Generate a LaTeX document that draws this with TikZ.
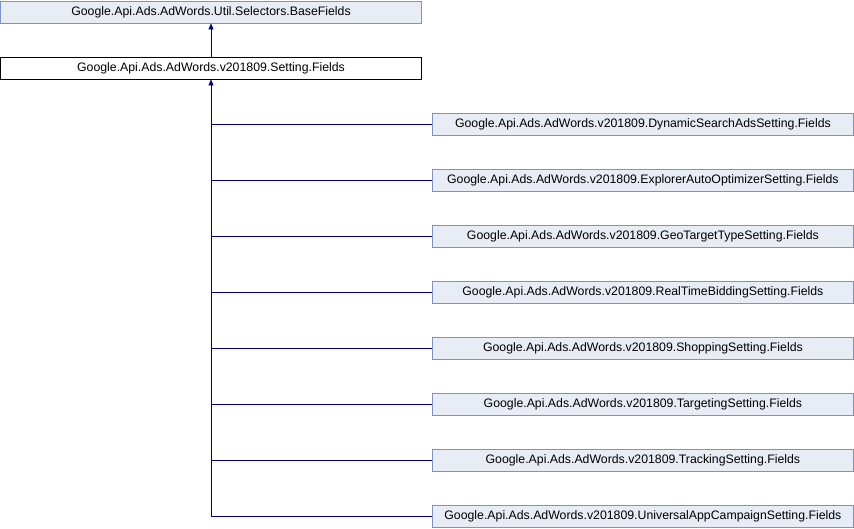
\documentclass[tikz,border=0pt]{standalone}
\usepackage{fontspec}
\setmainfont{Liberation Sans}
\usetikzlibrary{arrows.meta}
\definecolor{boxfill}{HTML}{E8ECF5}
\definecolor{boxline}{HTML}{7A94C6}
\definecolor{edge}{HTML}{000080}
\begin{document}
\begin{tikzpicture}[x=1pt,y=-1pt,
  cls/.style={draw=boxline,fill=boxfill,line width=0.8pt,minimum width=421pt,minimum height=22pt,inner sep=0pt,font=\fontsize{12.3}{14}\selectfont},
  cur/.style={cls,draw=black,fill=white},
  inh/.style={draw=edge,line width=0.8pt,-{Triangle[length=6pt,width=5pt]}},
  ln/.style={draw=edge,line width=0.8pt}]
\useasboundingbox (0,0) rectangle (854,528);
\node[cls] (base) at (211,12) {Google.Api.Ads.AdWords.Util.Selectors.BaseFields};
\node[cur] (set) at (211,68) {Google.Api.Ads.AdWords.v201809.Setting.Fields};
\draw[inh] (set) -- (base);
\foreach \n/\t [count=\i] in {
  d/DynamicSearchAdsSetting,
  e/ExplorerAutoOptimizerSetting,
  g/GeoTargetTypeSetting,
  r/RealTimeBiddingSetting,
  s/ShoppingSetting,
  t/TargetingSetting,
  k/TrackingSetting,
  u/UniversalAppCampaignSetting}{
  \node[cls,anchor=west] (\n) at (432,{68+56*\i}) {Google.Api.Ads.AdWords.v201809.\t.Fields};
  \coordinate (j\n) at (211,{68+56*\i});
  \draw[ln] (\n.west) -- (j\n);
}
\draw[inh] (ju) -- (set.south);
\end{tikzpicture}
\end{document}
